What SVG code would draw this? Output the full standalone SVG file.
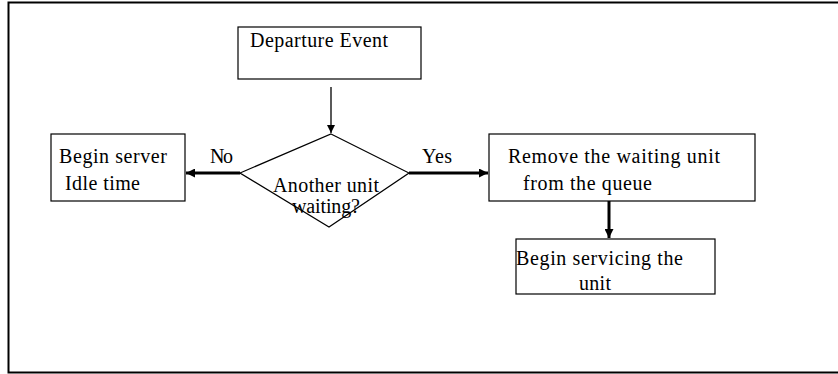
<svg xmlns="http://www.w3.org/2000/svg" width="838" height="374" viewBox="0 0 838 374">
<style>
.box{fill:#fff;stroke:#000;stroke-width:1.2}
.t{font-family:"Liberation Serif","Times New Roman",serif;font-size:20px;fill:#000}
.thin{stroke:#000;stroke-width:1.3;fill:none}
.thick{stroke:#000;stroke-width:3;fill:none}
</style>
<defs>
<marker id="ah" viewBox="0 0 10 10" refX="10" refY="5" markerWidth="8" markerHeight="9" markerUnits="userSpaceOnUse" orient="auto"><path d="M0,0 L10,5 L0,10 z" fill="#000"/></marker>
<marker id="ah2" viewBox="0 0 10 10" refX="10" refY="5" markerWidth="9" markerHeight="9" markerUnits="userSpaceOnUse" orient="auto"><path d="M0,0 L10,5 L0,10 z" fill="#000"/></marker>
</defs>
<rect width="838" height="374" fill="#fff"/>
<path d="M838,2.5 H8.5 V372.5 H838" fill="none" stroke="#000" stroke-width="2"/>
<g id="departure">
<rect class="box" x="238" y="27" width="183" height="52"/>
<text class="t" x="250" y="47" textLength="138">Departure Event</text>
</g>
<g id="decision">
<polygon class="box" points="331,134 409,173 329,227 240,173"/>
<text class="t" x="273" y="192" textLength="106">Another unit</text>
<text class="t" x="292" y="213" textLength="68">waiting?</text>
</g>
<g id="idle">
<rect class="box" x="51" y="134" width="134" height="67"/>
<text class="t" x="59" y="163" textLength="108">Begin server</text>
<text class="t" x="65" y="190" textLength="75">Idle time</text>
</g>
<g id="remove">
<rect class="box" x="489" y="134" width="266" height="67"/>
<text class="t" x="508" y="163" textLength="212">Remove the waiting unit</text>
<text class="t" x="523" y="190" textLength="129">from the queue</text>
</g>
<g id="service">
<rect class="box" x="516" y="239" width="199" height="55"/>
<text class="t" x="516" y="265" textLength="167">Begin servicing the</text>
<text class="t" x="579" y="290" textLength="32">unit</text>
</g>
<g id="connectors">
<line class="thin" x1="331" y1="87" x2="331" y2="133" marker-end="url(#ah)"/>
<line class="thick" x1="240" y1="173" x2="186" y2="173" marker-end="url(#ah2)"/>
<line class="thick" x1="409" y1="173" x2="488" y2="173" marker-end="url(#ah2)"/>
<line class="thick" x1="609" y1="201" x2="609" y2="238" marker-end="url(#ah2)"/>
<text class="t" x="210" y="163" textLength="23">No</text>
<text class="t" x="422" y="163" textLength="30">Yes</text>
</g>
</svg>
